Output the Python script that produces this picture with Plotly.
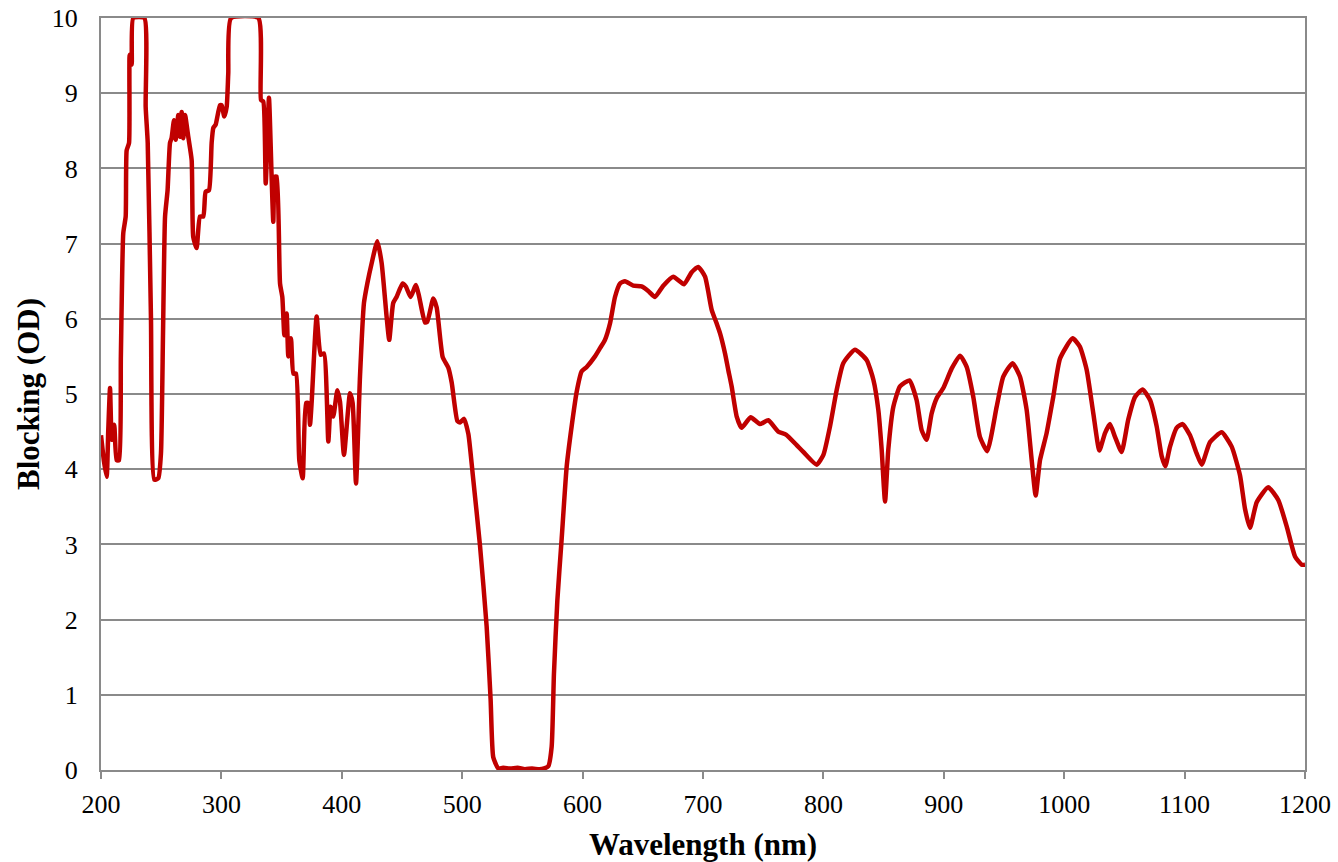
import plotly.graph_objects as go

wavelength_nm = [
    200, 202.5, 204.7, 206, 207.5, 208.9, 211, 213, 215, 216.5, 218.5, 220.5, 221.3, 223.3, 223.8, 225.5, 226.8,
    236, 237.1, 238.8, 241.5, 244.3, 247.6, 249.8, 251.5, 253.2, 255.3, 257.3, 258.6, 260.6, 262, 264.2, 265.6,
    267, 268.4, 269.8, 272.5, 275.3, 276.6, 279.4, 282.2, 285, 286.9, 289.7, 291.9, 293.3, 295.2, 298.8, 300.2,
    302.4, 304.4, 305.7, 308, 330.7, 332.9, 334.8, 336.8, 339.5, 341.7, 343.1, 344.5, 345.9, 348.7, 350.6, 352.3,
    354.2, 355.6, 357.8, 359.8, 362, 364.7, 367.5, 370.3, 372.2, 373.6, 375, 379.1, 382.4, 385.2, 388.8, 390.7,
    392.9, 396.3, 398.5, 401.8, 406.8, 409, 411.8, 415.1, 418.4, 421.2, 424.8, 429.5, 433.1, 437.2, 439.4, 442.7,
    445.5, 450.5, 453.2, 457.1, 461.6, 464.3, 469.1, 471, 476, 478.8, 483.8, 488.5, 491.3, 496, 498.2, 501.5,
    505.1, 508.7, 514.8, 520.3, 523.6, 525.8, 530, 534, 540, 546, 552, 558, 564, 568, 571.5, 574.3, 576.2, 579,
    582.6, 586.8, 590.9, 595.1, 599.2, 603.4, 610.3, 614.5, 618.6, 622.8, 626.9, 631.1, 635.2, 642.1, 649, 654.5,
    660.1, 667, 675.3, 684.2, 690.6, 696.1, 701.7, 707.2, 711.3, 714.1, 718.3, 721, 723.8, 728, 732.1, 739.6,
    747.3, 754.2, 762.5, 768.9, 777.8, 783.3, 794.4, 800, 805.5, 811, 816.5, 826.2, 836, 841.5, 845.6, 848.4,
    851.2, 853.9, 858.1, 863.6, 871.4, 877.4, 881.6, 885.7, 889.9, 894, 899.6, 906.6, 913.5, 919, 924.5, 930,
    936.1, 943.9, 949.4, 957.1, 963.3, 968.8, 973, 976.3, 979.9, 985.4, 990.9, 996.5, 1007, 1013, 1018.7, 1024.2,
    1029.2, 1033.9, 1038, 1042.2, 1047.7, 1053.2, 1058.8, 1065.2, 1071.3, 1076.8, 1081, 1084, 1087.9, 1093.4,
    1098.4, 1104.5, 1110, 1114.2, 1121.1, 1130.8, 1139.1, 1146, 1150.2, 1154.3, 1159.9, 1169.5, 1177.8, 1184.8,
    1191.7, 1197.3, 1200,
]

blocking_od = [
    4.45, 4.10, 3.90, 4.50, 5.08, 4.39, 4.59, 4.12, 4.12, 5.50, 7.14, 7.36, 8.24, 8.34, 9.51, 9.38, 10.0,
    10.0, 8.82, 8.34, 6.00, 3.86, 3.88, 4.21, 5.80, 7.36, 7.71, 8.34, 8.40, 8.64, 8.38, 8.71, 8.42,
    8.75, 8.40, 8.71, 8.42, 8.11, 7.09, 6.94, 7.36, 7.36, 7.69, 7.71, 8.34, 8.54, 8.58, 8.84, 8.84,
    8.69, 8.82, 9.26, 10.0, 10.0, 8.91, 8.89, 7.80, 8.94, 7.89, 7.29, 7.89, 7.89, 6.47, 6.29, 5.78,
    6.07, 5.50, 5.74, 5.27, 5.27, 4.12, 3.88, 4.88, 4.88, 4.59, 4.90, 6.03, 5.52, 5.54, 4.37, 4.83,
    4.70, 5.05, 4.90, 4.19, 5.01, 4.88, 3.81, 5.23, 6.21, 6.47, 6.74, 7.03, 6.74, 6.03, 5.72, 6.21,
    6.29, 6.47, 6.43, 6.29, 6.45, 6.29, 5.95, 5.96, 6.27, 6.15, 5.49, 5.35, 5.15, 4.64, 4.62, 4.67,
    4.47, 3.94, 2.98, 1.91, 0.94, 0.17, 0.02, 0.03, 0.02, 0.03, 0.01, 0.02, 0.01, 0.02, 0.05, 0.31, 1.28, 2.25,
    3.07, 4.04, 4.57, 5.03, 5.30, 5.36, 5.50, 5.61, 5.72, 5.94, 6.29, 6.47, 6.50, 6.44, 6.43, 6.37,
    6.29, 6.44, 6.56, 6.46, 6.62, 6.69, 6.56, 6.12, 5.94, 5.81, 5.54, 5.32, 5.10, 4.70, 4.55, 4.69,
    4.60, 4.65, 4.50, 4.46, 4.32, 4.23, 4.06, 4.19, 4.57, 5.05, 5.41, 5.59, 5.45, 5.19, 4.79, 4.26,
    3.57, 4.26, 4.83, 5.10, 5.18, 4.92, 4.52, 4.39, 4.74, 4.94, 5.08, 5.34, 5.51, 5.36, 4.96, 4.43,
    4.24, 4.83, 5.23, 5.41, 5.23, 4.79, 4.12, 3.65, 4.12, 4.48, 4.96, 5.47, 5.74, 5.63, 5.32, 4.74,
    4.25, 4.48, 4.60, 4.43, 4.23, 4.66, 4.96, 5.06, 4.92, 4.57, 4.17, 4.04, 4.30, 4.55,
    4.60, 4.45, 4.21, 4.06, 4.36, 4.49, 4.30, 3.92, 3.47, 3.22, 3.56, 3.76, 3.59, 3.24,
    2.84, 2.73, 2.73,
]

x_ticks = [200, 300, 400, 500, 600, 700, 800, 900, 1000, 1100, 1200]
y_ticks = [0, 1, 2, 3, 4, 5, 6, 7, 8, 9, 10]

fig = go.Figure()
fig.add_trace(go.Scatter(
    x=wavelength_nm, y=blocking_od, mode="lines",
    line=dict(color="#C00000", width=4.5, shape="spline", smoothing=0.5),
    showlegend=False, hoverinfo="x+y",
))

serif = "Liberation Serif"
grid_col = "#8a8a8a"

fig.update_layout(
    width=1338, height=862,
    margin=dict(l=101, r=33, t=18, b=92, autoexpand=False),
    paper_bgcolor="white", plot_bgcolor="white",
    font=dict(family=serif, color="black", size=26),
    xaxis=dict(
        range=[200, 1200], tickmode="array", tickvals=x_ticks,
        showgrid=False, zeroline=False, automargin=False,
        showline=True, linecolor=grid_col, linewidth=2, mirror=True,
        ticks="outside", ticklen=7, tickwidth=2, tickcolor=grid_col,
        tickfont=dict(family=serif, size=26, color="black"),
        ticklabelstandoff=3, ticklabeloverflow="allow",
        title=dict(text="<b>Wavelength (nm)</b>", font=dict(family=serif, size=31, color="black"), standoff=17),
    ),
    yaxis=dict(
        range=[0, 10], tickmode="array", tickvals=y_ticks,
        showgrid=True, gridcolor=grid_col, gridwidth=1.6, zeroline=False, automargin=False,
        showline=True, linecolor=grid_col, linewidth=2, mirror=True,
        ticks="", tickfont=dict(family=serif, size=26, color="black"),
        ticklabelstandoff=16, ticklabeloverflow="allow",
    ),
    annotations=[dict(
        text="<b>Blocking (OD)</b>", textangle=-90, showarrow=False,
        xref="paper", yref="paper", x=-0.0606, y=0.5, xanchor="center", yanchor="middle",
        font=dict(family=serif, size=31, color="black"),
    )],
)

fig.write_html(
    "out.html",
    config={"displayModeBar": False},
    post_script="document.body.style.margin='0px'; document.body.style.overflow='hidden';",
)
